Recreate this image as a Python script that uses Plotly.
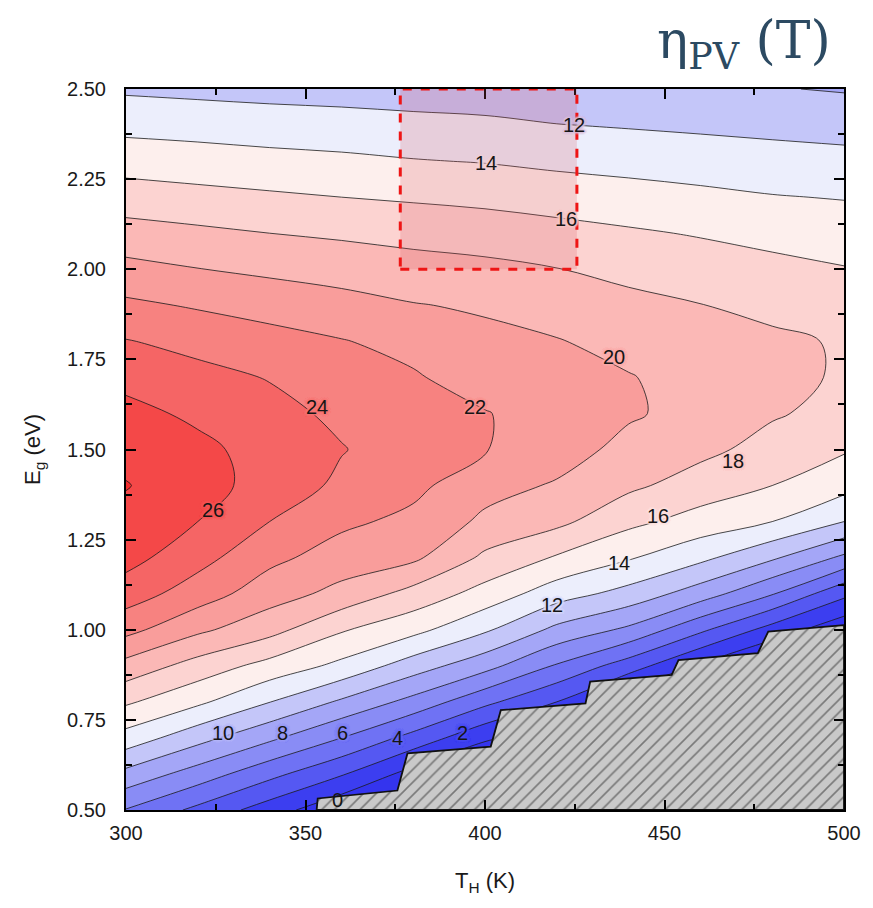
import plotly.graph_objects as go

# ---------------- data ----------------
T_H = [300, 320, 340, 360, 380, 400, 420, 440, 460, 480, 500]
E_g = [0.5, 0.6, 0.7, 0.8, 0.9, 1.0, 1.1, 1.2, 1.3, 1.4, 1.5,
       1.6, 1.7, 1.8, 1.9, 2.0, 2.1, 2.2, 2.3, 2.4, 2.5]

# efficiency eta_PV (%) ; one row per E_g value, columns follow T_H
eta = [
    [5.9, 3.5, 1.0, -1.7, -4, -6, -8, -10, -12, -14, -16],
    [9.4, 7.1, 4.6, 2.2, -0.8, -3.5, -5, -7, -9, -11, -13],
    [13.2, 10.7, 8.4, 6.0, 3.3, 0.4, -1.5, -4, -6, -8, -10],
    [16.3, 14.4, 12.05, 9.7, 7.35, 4.5, 2.0, -1.6, -3, -5, -7],
    [19.3, 17.2, 15.3, 13.5, 11.0, 8.7, 5.8, 3.0, -0.3, -3, -4],
    [22.6, 20.4, 18.7, 16.2, 14.6, 12.3, 9.5, 7.6, 4.4, 1.2, -1.5],
    [25.0, 23.0, 20.9, 19.4, 17.3, 15.25, 12.9, 11.3, 9.0, 6.15, 2.5],
    [26.7, 24.7, 22.5, 21.1, 20.4, 17.6, 15.8, 14.2, 12.5, 10.3, 7.6],
    [27.4, 26.0, 24.0, 22.4, 21.5, 19.6, 18.5, 16.5, 15.2, 14.0, 12.0],
    [28.1, 26.8, 25.2, 23.6, 22.5, 20.7, 19.8, 18.4, 17.1, 16.0, 14.7],
    [27.4, 26.5, 25.2, 24.1, 23.0, 22.1, 20.9, 19.4, 18.5, 17.3, 16.2],
    [26.6, 25.6, 24.6, 23.6, 22.7, 22.1, 21.1, 20.25, 19.3, 18.2, 17.4],
    [25.4, 24.6, 23.9, 22.9, 22.2, 21.1, 20.6, 20.1, 19.3, 18.5, 17.8],
    [24.1, 23.4, 22.7, 22.1, 21.4, 20.5, 20.1, 19.4, 18.75, 18.4, 17.8],
    [22.4, 21.8, 21.25, 20.7, 20.1, 19.75, 19.15, 18.5, 18.05, 17.45, 16.9],
    [20.6, 20.05, 19.6, 19.2, 18.8, 18.5, 18.05, 17.5, 17.0, 16.5, 16.1],
    [18.8, 18.4, 18.0, 17.7, 17.35, 17.05, 16.65, 16.25, 15.85, 15.45, 15.05],
    [16.95, 16.6, 16.3, 16.0, 15.75, 15.5, 15.15, 14.8, 14.45, 14.1, 13.9],
    [15.15, 14.9, 14.6, 14.4, 14.1, 13.9, 13.55, 13.3, 13.05, 12.8, 12.6],
    [13.4, 13.2, 13.0, 12.8, 12.6, 12.4, 12.05, 11.85, 11.65, 11.45, 11.25],
    [11.7, 11.5, 11.3, 11.2, 11.0, 10.9, 10.6, 10.45, 10.3, 10.1, 9.85],
]

# boundary of the excluded (hatched) region
excl_T = [353.1, 353.4, 375.6, 378.4, 401.6, 404.4, 428.0, 429.3, 452.0, 453.9, 476.0, 478.9, 500.0, 500.0, 353.1]
excl_Eg = [0.50, 0.532, 0.554, 0.657, 0.676, 0.777, 0.796, 0.856, 0.875, 0.916, 0.935, 0.995, 1.013, 0.50, 0.50]

# contour labels: level, T, Eg
lab_level = [12, 14, 16, 20, 24, 22, 18, 26, 16, 14, 12, 10, 8, 6, 4, 2, 0]
lab_T = [424.7, 400.3, 422.5, 435.8, 353.3, 397.2, 469.2, 324.2, 448.3, 437.2, 418.6, 326.9, 343.6, 360.3, 375.6, 393.6, 358.9]
lab_Eg = [2.40, 2.295, 2.139, 1.757, 1.618, 1.618, 1.468, 1.332, 1.316, 1.185, 1.069, 0.714, 0.714, 0.714, 0.70, 0.714, 0.528]

# highlighted window
win_T = [376.4, 425.6]
win_Eg = [2.0, 2.5]

# band colours: below 0, 0-2, 2-4, ..., 26-28, above 28
band_colors = ["#3434ee", "#3c3ef0", "#5558f2", "#6f72f4", "#898cf5", "#a4a6f7",
               "#c4c6f9", "#eceefc", "#fdefed", "#fcd3d1", "#fbb8b6", "#f99d9b",
               "#f78280", "#f56565", "#f44848", "#f22e2e"]

# ---------------- figure ----------------
n = len(band_colors)
colorscale = [[k / (n - 1), c] for k, c in enumerate(band_colors)]

fig = go.Figure()
fig.add_trace(go.Contour(
    x=T_H, y=E_g, z=eta,
    colorscale=colorscale, showscale=False,
    contours=dict(start=0, end=28, size=2, coloring="fill", showlabels=False),
    line=dict(color="#1a1a1a", width=0.8, smoothing=1.0),
    hoverinfo="skip",
))

fig.add_trace(go.Scatter(
    x=excl_T, y=excl_Eg, mode="lines", fill="toself",
    fillcolor="#c9c9c9",
    fillpattern=dict(shape="/", bgcolor="#c9c9c9", fgcolor="#2a2a2a", size=9, solidity=0.18),
    line=dict(color="#111111", width=1.8),
    hoverinfo="skip", showlegend=False,
))


def hex2rgb(h):
    h = h.lstrip("#")
    return [int(h[i:i + 2], 16) for i in (0, 2, 4)]


overlay = (215, 80, 90)
overlay_a = 0.2
annotations = []
for L, t, e in zip(lab_level, lab_T, lab_Eg):
    k = L // 2
    c1 = hex2rgb(band_colors[k])
    c2 = hex2rgb(band_colors[min(k + 1, n - 1)])
    c = [(a + b) / 2 for a, b in zip(c1, c2)]
    if win_T[0] <= t <= win_T[1] and win_Eg[0] <= e <= win_Eg[1]:
        c = [(1 - overlay_a) * a + overlay_a * b for a, b in zip(c, overlay)]
    col = "rgb(%d,%d,%d)" % tuple(int(round(v)) for v in c)
    halo = ", ".join(["0 0 3px " + col] * 6 + ["2px 0 2px " + col, "-2px 0 2px " + col])
    if L == 0:
        halo = "none"
    annotations.append(dict(
        x=t, y=e, xref="x", yref="y", text=str(L), showarrow=False,
        font=dict(family="Liberation Sans, Arial", size=20, color="#151515", shadow=halo),
        borderpad=0,
    ))

annotations.append(dict(
    x=0.985, y=1.062, xref="paper", yref="paper", xanchor="right", yanchor="middle",
    text="η<sub>PV</sub> (T)", showarrow=False,
    font=dict(family="DejaVu Serif", size=52, color="#2c4a62"),
))

fig.add_shape(type="rect", xref="x", yref="y",
              x0=win_T[0], x1=win_T[1], y0=win_Eg[0], y1=win_Eg[1],
              line=dict(color="#ee1515", width=3, dash="dash"),
              fillcolor="rgba(215,80,90,0.2)", layer="above")

axis_font = dict(family="Liberation Sans, Arial", size=20, color="#1a1a1a")
title_font = dict(family="Liberation Sans, Arial", size=22, color="#1a1a1a")
fig.update_layout(
    width=873, height=908,
    margin=dict(l=126, r=27, t=89, b=98),
    paper_bgcolor="white", plot_bgcolor="white",
    annotations=annotations,
    showlegend=False,
    xaxis=dict(
        range=[300, 500], dtick=50, tick0=300, ticks="inside", ticklen=10, tickwidth=1.5,
        tickcolor="black", minor=dict(dtick=25, ticks="inside", ticklen=6, tickwidth=1.5, tickcolor="black"),
        showline=True, linecolor="black", linewidth=2, mirror="allticks",
        showgrid=False, zeroline=False, tickfont=axis_font, ticklabelstandoff=4,
        title=dict(text="T<sub>H</sub> (K)", font=title_font, standoff=30),
    ),
    yaxis=dict(
        range=[0.5, 2.5], dtick=0.25, tick0=0.5, tickformat=".2f", ticks="inside", ticklen=10, tickwidth=1.5,
        tickcolor="black", minor=dict(dtick=0.125, ticks="inside", ticklen=6, tickwidth=1.5, tickcolor="black"),
        showline=True, linecolor="black", linewidth=2, mirror="allticks",
        showgrid=False, zeroline=False, tickfont=axis_font, ticklabelstandoff=14,
        title=dict(text="E<sub>g</sub> (eV)", font=title_font, standoff=20),
    ),
)

fig.write_html("out.html")
